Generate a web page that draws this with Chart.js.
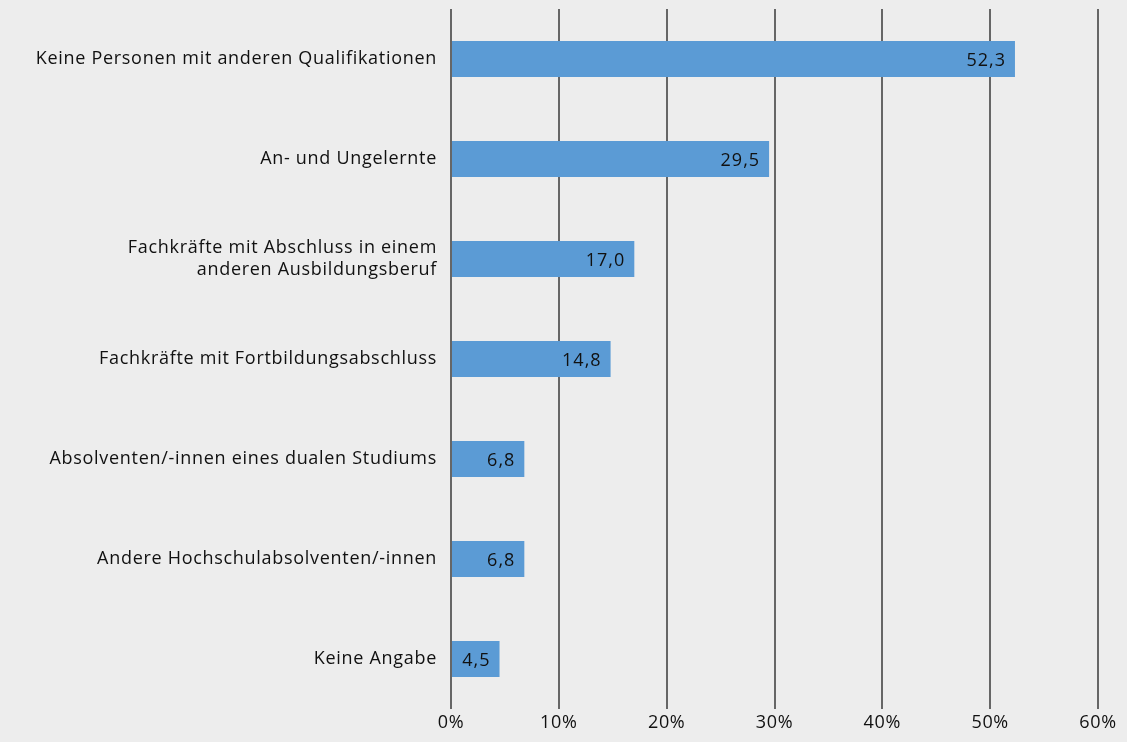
<!DOCTYPE html>
<html>
<head>
<meta charset="utf-8">
<script src="https://cdn.jsdelivr.net/npm/chart.js@4/dist/chart.umd.min.js"></script>
<style>
html, body { margin: 0; padding: 0; background: #ededed; }
#wrap { width: 1127px; height: 742px; }
</style>
</head>
<body>
<div id="wrap"><canvas id="qualiChart"></canvas></div>
<script>
var categories = [
    "Keine Personen mit anderen Qualifikationen",
    "An- und Ungelernte",
    ["Fachkräfte mit Abschluss in einem", "anderen Ausbildungsberuf"],
    "Fachkräfte mit Fortbildungsabschluss",
    "Absolventen/-innen eines dualen Studiums",
    "Andere Hochschulabsolventen/-innen",
    "Keine Angabe"
];
var values = [52.3, 29.5, 17.0, 14.8, 6.8, 6.8, 4.5];
var tickValues = [0, 10, 20, 30, 40, 50, 60];

var fontFamily = "'Open Sans', 'Noto Sans', sans-serif";

// etwas Laufweite wie im Original
var spacing = {
    id: "spacing",
    beforeDraw: function (chart) {
        chart.ctx.letterSpacing = "0.7px";
    }
};

// Werte rechtsbündig in den Balken schreiben
var valueLabels = {
    id: "valueLabels",
    afterDatasetsDraw: function (chart) {
        var ctx = chart.ctx;
        var meta = chart.getDatasetMeta(0);
        ctx.save();
        ctx.font = "18px " + fontFamily;
        ctx.letterSpacing = "1px";
        ctx.fillStyle = "#111";
        ctx.textAlign = "right";
        ctx.textBaseline = "middle";
        meta.data.forEach(function (bar, i) {
            var txt = values[i].toFixed(1).replace(".", ",");
            ctx.fillText(txt, bar.x - 9, bar.y + 2);
        });
        ctx.restore();
    }
};

var ctx1 = document.getElementById("qualiChart");
var qualiChart = new Chart(ctx1, {
    type: "bar",
    data: {
        labels: categories,
        datasets: [
            {
                data: values,
                backgroundColor: "#5b9bd5",
                borderWidth: 0,
                barPercentage: 0.36,
                categoryPercentage: 1.0
            }
        ]
    },
    plugins: [spacing, valueLabels],
    options: {
        indexAxis: "y",
        responsive: true,
        maintainAspectRatio: false,
        animation: false,
        layout: {
            padding: { top: 9, right: 29, bottom: 0, left: 0 }
        },
        plugins: {
            legend: { display: false },
            tooltip: { enabled: false }
        },
        scales: {
            x: {
                min: 0,
                max: 60,
                afterBuildTicks: function (scale) {
                    scale.ticks = tickValues.map(function (v) { return { value: v }; });
                },
                afterFit: function (scale) {
                    scale.height = 33;
                    scale.paddingLeft = 0;
                    scale.paddingRight = 0;
                },
                border: { display: false },
                grid: {
                    color: "#666",
                    lineWidth: 2,
                    drawTicks: false
                },
                ticks: {
                    padding: 3,
                    color: "#111",
                    font: { family: fontFamily, size: 18 },
                    callback: function (v) { return v + "%"; }
                }
            },
            y: {
                afterFit: function (scale) {
                    scale.width = 451;
                    scale.paddingTop = 0;
                    scale.paddingBottom = 0;
                },
                border: { display: false },
                grid: { display: false },
                ticks: {
                    padding: 6,
                    color: "#111",
                    font: { family: fontFamily, size: 18, lineHeight: 1.2 }
                }
            }
        }
    }
});
</script>
</body>
</html>
